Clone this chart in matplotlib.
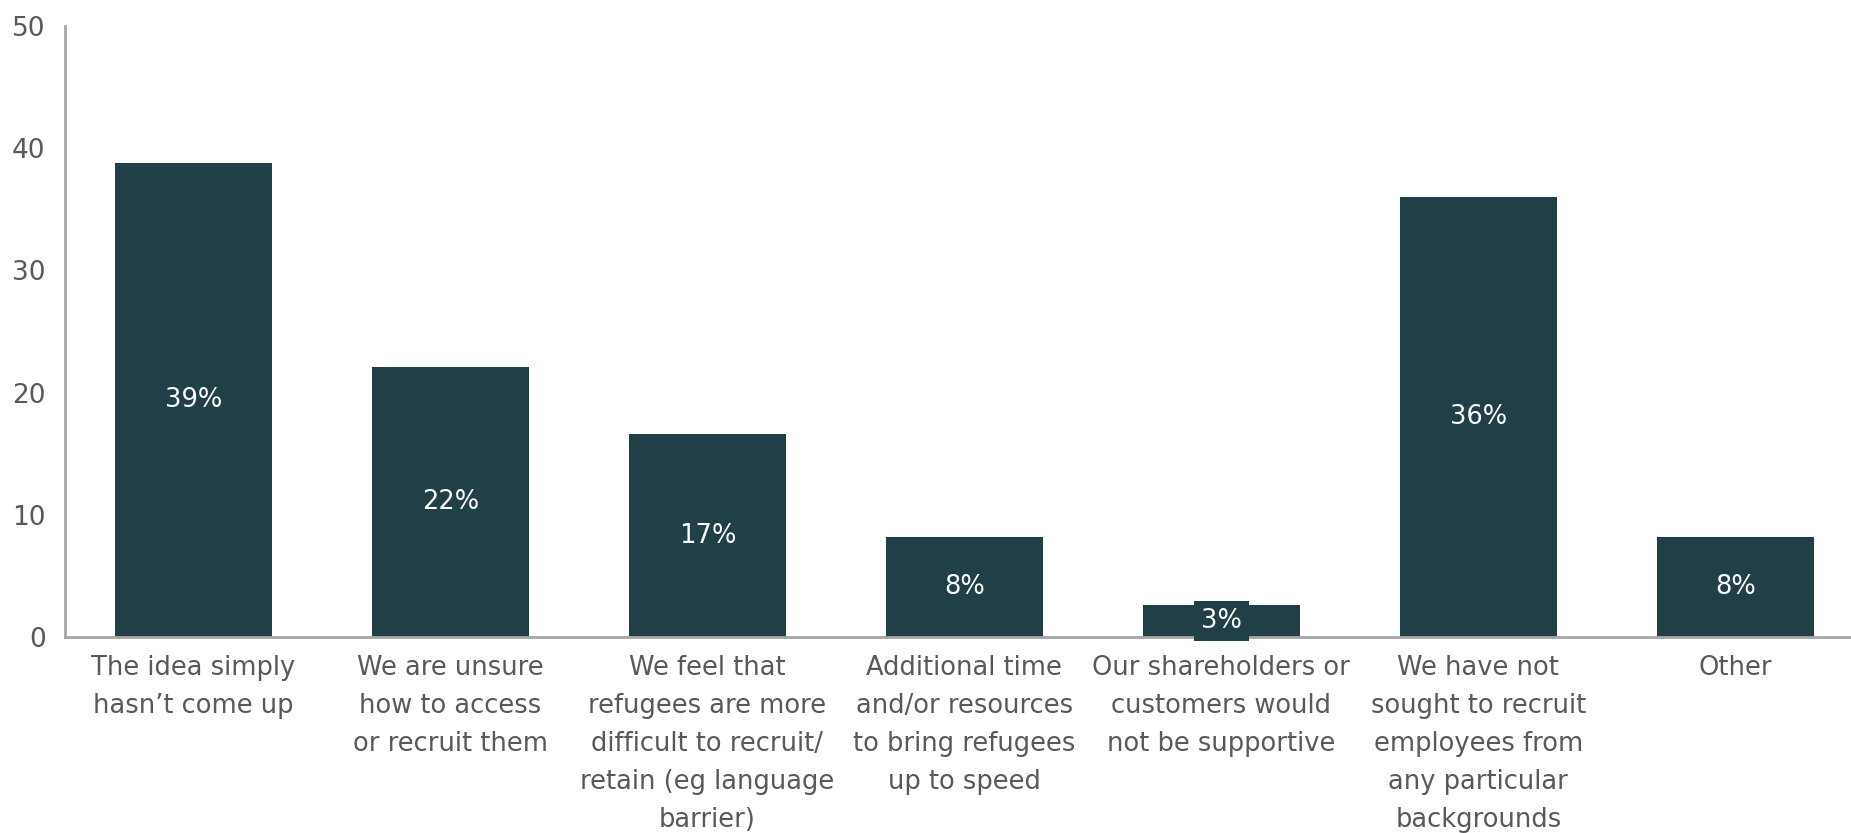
import matplotlib.pyplot as plt

reasons = [
    "The idea simply\nhasn\u2019t come up",
    "We are unsure\nhow to access\nor recruit them",
    "We feel that\nrefugees are more\ndifficult to recruit/\nretain (eg language\nbarrier)",
    "Additional time\nand/or resources\nto bring refugees\nup to speed",
    "Our shareholders or\ncustomers would\nnot be supportive",
    "We have not\nsought to recruit\nemployees from\nany particular\nbackgrounds",
    "Other",
]
share = [38.8, 22.1, 16.6, 8.2, 2.6, 36.0, 8.2]
yticks = [0, 10, 20, 30, 40, 50]

bar_color = "#213f47"
text_color = "#595959"

fig = plt.figure(figsize=(18.51, 8.33), dpi=100)
ax = fig.add_axes([0.0351, 0.2353, 0.9649, 0.7335])

x = range(len(reasons))
bars = ax.bar(x, share, width=0.61, color=bar_color, zorder=2)

for xi, v in zip(x, share):
    ax.text(xi, v / 2, f"{round(v)}%", ha="center", va="center",
            color="white", fontsize=18.5, zorder=3,
            bbox=dict(boxstyle="square,pad=0.28", fc=bar_color, ec="none"))

ax.set_xlim(-0.5, 6.45)
ax.set_ylim(0, 50)
ax.set_yticks(yticks)
ax.set_xticks(list(x))
ax.set_xticklabels(reasons, linespacing=1.6)
ax.tick_params(axis="y", length=0, pad=14, labelsize=19, labelcolor=text_color)
ax.tick_params(axis="x", length=0, pad=13, labelsize=18.5, labelcolor=text_color)
for lbl in ax.get_xticklabels():
    lbl.set_verticalalignment("top")

for side in ("top", "right"):
    ax.spines[side].set_visible(False)
for side in ("left", "bottom"):
    ax.spines[side].set_color("#a6a6a6")
    ax.spines[side].set_linewidth(2)

fig.savefig("out.png", dpi=100)
